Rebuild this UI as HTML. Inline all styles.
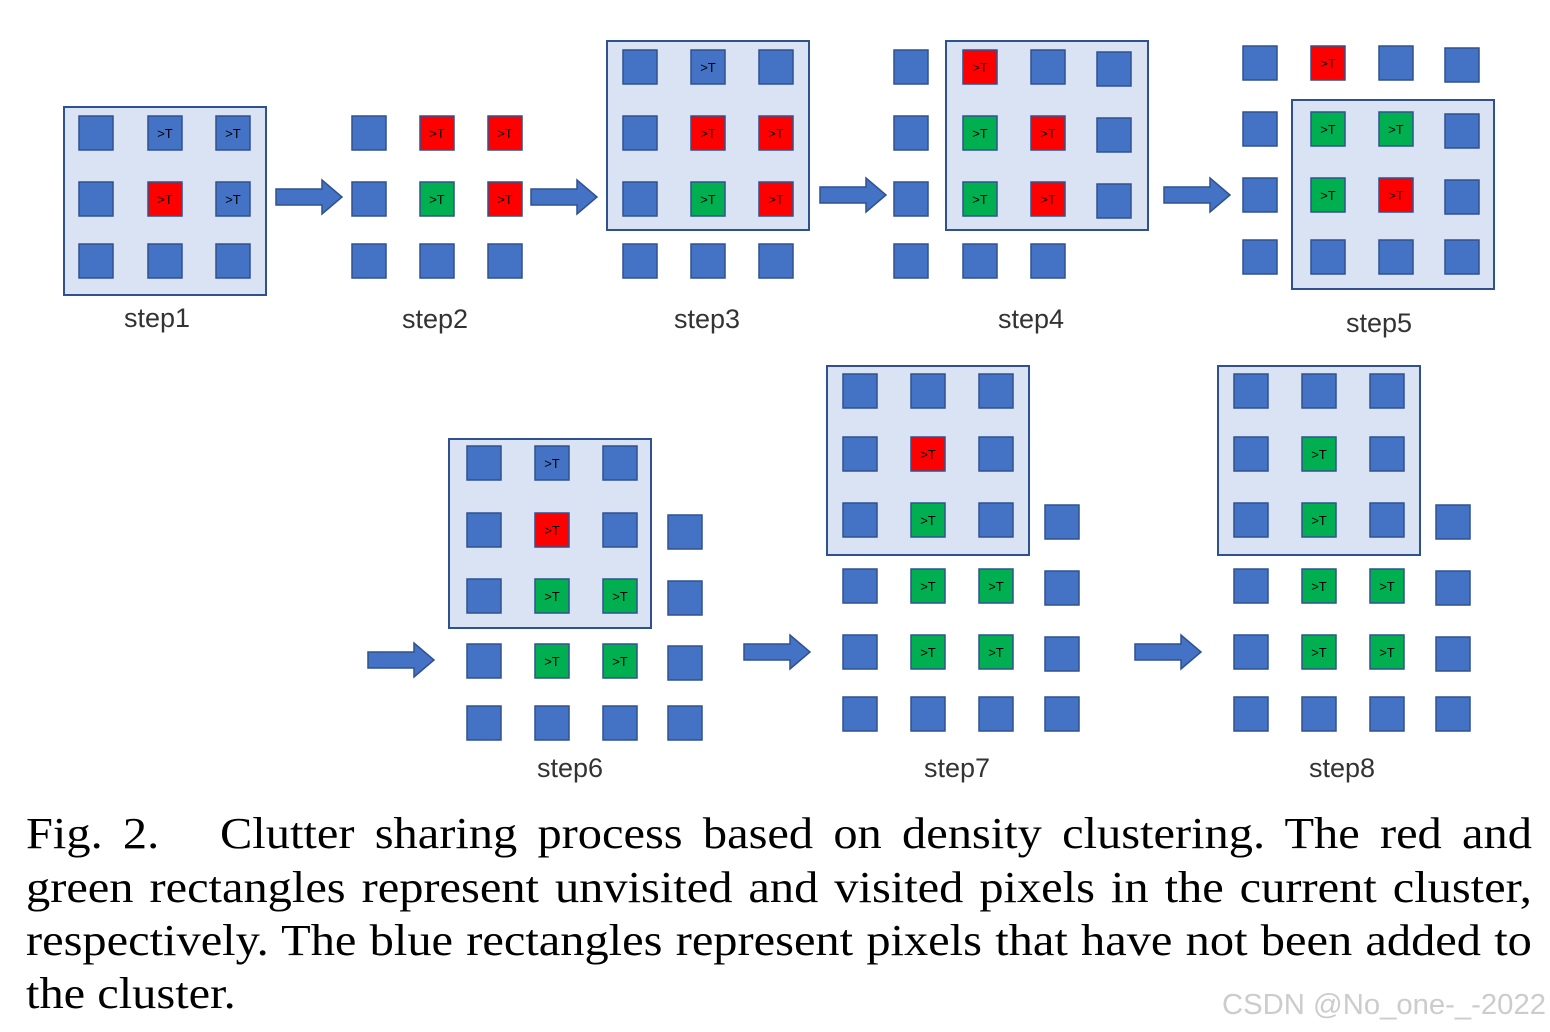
<!DOCTYPE html>
<html><head><meta charset="utf-8"><style>
body{margin:0;background:#fff;width:1550px;height:1032px;overflow:hidden;position:relative}
svg{display:block;position:absolute;left:0;top:0}
.l{font-family:"Liberation Sans","DejaVu Sans",sans-serif;font-size:27px;fill:#333;text-anchor:middle}
.t{font-family:"Liberation Sans",sans-serif;font-size:13px;fill:#000;text-anchor:middle}
.box{fill:#DAE3F3;stroke:#2F528F;stroke-width:2}
.cl{position:absolute;left:26px;width:1369px;font-family:"Liberation Serif",serif;font-size:44px;line-height:50px;color:#000;white-space:nowrap;text-align:justify;text-align-last:justify;transform:scaleX(1.1);transform-origin:0 0}
</style></head><body>
<svg width="1550" height="1032" viewBox="0 0 1550 1032">
<defs>
<rect id="b" width="34" height="34" fill="#4472C4" stroke="#2F528F" stroke-width="1.5"/>
<rect id="r" width="34" height="34" fill="#FF0000" stroke="#2F528F" stroke-width="1.5"/>
<rect id="g" width="34" height="34" fill="#00B050" stroke="#2F528F" stroke-width="1.5"/>
</defs>
<rect class="box" x="64" y="107" width="202" height="188"/>
<rect class="box" x="607" y="41" width="202" height="189"/>
<rect class="box" x="946" y="41" width="202" height="189"/>
<rect class="box" x="1292" y="100" width="202" height="189"/>
<rect class="box" x="449" y="439" width="202" height="189"/>
<rect class="box" x="827" y="366" width="202" height="189"/>
<rect class="box" x="1218" y="366" width="202" height="189"/>
<g fill="#4472C4" stroke="#2F528F" stroke-width="1.5">
<polygon points="276,189 322,189 322,180 342,197 322,214 322,205 276,205"/>
<polygon points="531,189 577,189 577,180 597,197 577,214 577,205 531,205"/>
<polygon points="820,187 866,187 866,178 886,195 866,212 866,203 820,203"/>
<polygon points="1164,187 1210,187 1210,178 1230,195 1210,212 1210,203 1164,203"/>
<polygon points="368,652 414,652 414,643 434,660 414,677 414,668 368,668"/>
<polygon points="744,644 790,644 790,635 810,652 790,669 790,660 744,660"/>
<polygon points="1135,644 1181,644 1181,635 1201,652 1181,669 1181,660 1135,660"/>
</g>
<use href="#b" x="79" y="116"/><use href="#b" x="148" y="116"/><use href="#b" x="216" y="116"/>
<use href="#b" x="79" y="182"/><use href="#r" x="148" y="182"/><use href="#b" x="216" y="182"/>
<use href="#b" x="79" y="244"/><use href="#b" x="148" y="244"/><use href="#b" x="216" y="244"/>
<text class="t" x="165" y="138">&gt;T</text><text class="t" x="233" y="138">&gt;T</text>
<text class="t" x="165" y="204">&gt;T</text><text class="t" x="233" y="204">&gt;T</text>
<use href="#b" x="352" y="116"/><use href="#r" x="420" y="116"/><use href="#r" x="488" y="116"/>
<use href="#b" x="352" y="182"/><use href="#g" x="420" y="182"/><use href="#r" x="488" y="182"/>
<use href="#b" x="352" y="244"/><use href="#b" x="420" y="244"/><use href="#b" x="488" y="244"/>
<text class="t" x="437" y="138">&gt;T</text><text class="t" x="505" y="138">&gt;T</text>
<text class="t" x="437" y="204">&gt;T</text><text class="t" x="505" y="204">&gt;T</text>
<use href="#b" x="623" y="50"/><use href="#b" x="691" y="50"/><use href="#b" x="759" y="50"/>
<use href="#b" x="623" y="116"/><use href="#r" x="691" y="116"/><use href="#r" x="759" y="116"/>
<use href="#b" x="623" y="182"/><use href="#g" x="691" y="182"/><use href="#r" x="759" y="182"/>
<use href="#b" x="623" y="244"/><use href="#b" x="691" y="244"/><use href="#b" x="759" y="244"/>
<text class="t" x="708" y="72">&gt;T</text>
<text class="t" x="708" y="138">&gt;T</text><text class="t" x="776" y="138">&gt;T</text>
<text class="t" x="708" y="204">&gt;T</text><text class="t" x="776" y="204">&gt;T</text>
<use href="#b" x="894" y="50"/><use href="#r" x="963" y="50"/><use href="#b" x="1031" y="50"/><use href="#b" x="1097" y="52"/>
<use href="#b" x="894" y="116"/><use href="#g" x="963" y="116"/><use href="#r" x="1031" y="116"/><use href="#b" x="1097" y="118"/>
<use href="#b" x="894" y="182"/><use href="#g" x="963" y="182"/><use href="#r" x="1031" y="182"/><use href="#b" x="1097" y="184"/>
<use href="#b" x="894" y="244"/><use href="#b" x="963" y="244"/><use href="#b" x="1031" y="244"/>
<text class="t" x="980" y="72">&gt;T</text>
<text class="t" x="980" y="138">&gt;T</text><text class="t" x="1048" y="138">&gt;T</text>
<text class="t" x="980" y="204">&gt;T</text><text class="t" x="1048" y="204">&gt;T</text>
<use href="#b" x="1243" y="46"/><use href="#r" x="1311" y="46"/><use href="#b" x="1379" y="46"/><use href="#b" x="1445" y="48"/>
<use href="#b" x="1243" y="112"/><use href="#g" x="1311" y="112"/><use href="#g" x="1379" y="112"/><use href="#b" x="1445" y="114"/>
<use href="#b" x="1243" y="178"/><use href="#g" x="1311" y="178"/><use href="#r" x="1379" y="178"/><use href="#b" x="1445" y="180"/>
<use href="#b" x="1243" y="240"/><use href="#b" x="1311" y="240"/><use href="#b" x="1379" y="240"/><use href="#b" x="1445" y="240"/>
<text class="t" x="1328" y="68">&gt;T</text>
<text class="t" x="1328" y="134">&gt;T</text><text class="t" x="1396" y="134">&gt;T</text>
<text class="t" x="1328" y="200">&gt;T</text><text class="t" x="1396" y="200">&gt;T</text>
<use href="#b" x="467" y="446"/><use href="#b" x="535" y="446"/><use href="#b" x="603" y="446"/>
<use href="#b" x="467" y="513"/><use href="#r" x="535" y="513"/><use href="#b" x="603" y="513"/><use href="#b" x="668" y="515"/>
<use href="#b" x="467" y="579"/><use href="#g" x="535" y="579"/><use href="#g" x="603" y="579"/><use href="#b" x="668" y="581"/>
<use href="#b" x="467" y="644"/><use href="#g" x="535" y="644"/><use href="#g" x="603" y="644"/><use href="#b" x="668" y="646"/>
<use href="#b" x="467" y="706"/><use href="#b" x="535" y="706"/><use href="#b" x="603" y="706"/><use href="#b" x="668" y="706"/>
<text class="t" x="552" y="468">&gt;T</text>
<text class="t" x="552" y="535">&gt;T</text>
<text class="t" x="552" y="601">&gt;T</text><text class="t" x="620" y="601">&gt;T</text>
<text class="t" x="552" y="666">&gt;T</text><text class="t" x="620" y="666">&gt;T</text>
<use href="#b" x="843" y="374"/><use href="#b" x="911" y="374"/><use href="#b" x="979" y="374"/>
<use href="#b" x="843" y="437"/><use href="#r" x="911" y="437"/><use href="#b" x="979" y="437"/>
<use href="#b" x="843" y="503"/><use href="#g" x="911" y="503"/><use href="#b" x="979" y="503"/><use href="#b" x="1045" y="505"/>
<use href="#b" x="843" y="569"/><use href="#g" x="911" y="569"/><use href="#g" x="979" y="569"/><use href="#b" x="1045" y="571"/>
<use href="#b" x="843" y="635"/><use href="#g" x="911" y="635"/><use href="#g" x="979" y="635"/><use href="#b" x="1045" y="637"/>
<use href="#b" x="843" y="697"/><use href="#b" x="911" y="697"/><use href="#b" x="979" y="697"/><use href="#b" x="1045" y="697"/>
<text class="t" x="928" y="459">&gt;T</text>
<text class="t" x="928" y="525">&gt;T</text>
<text class="t" x="928" y="591">&gt;T</text><text class="t" x="996" y="591">&gt;T</text>
<text class="t" x="928" y="657">&gt;T</text><text class="t" x="996" y="657">&gt;T</text>
<use href="#b" x="1234" y="374"/><use href="#b" x="1302" y="374"/><use href="#b" x="1370" y="374"/>
<use href="#b" x="1234" y="437"/><use href="#g" x="1302" y="437"/><use href="#b" x="1370" y="437"/>
<use href="#b" x="1234" y="503"/><use href="#g" x="1302" y="503"/><use href="#b" x="1370" y="503"/><use href="#b" x="1436" y="505"/>
<use href="#b" x="1234" y="569"/><use href="#g" x="1302" y="569"/><use href="#g" x="1370" y="569"/><use href="#b" x="1436" y="571"/>
<use href="#b" x="1234" y="635"/><use href="#g" x="1302" y="635"/><use href="#g" x="1370" y="635"/><use href="#b" x="1436" y="637"/>
<use href="#b" x="1234" y="697"/><use href="#b" x="1302" y="697"/><use href="#b" x="1370" y="697"/><use href="#b" x="1436" y="697"/>
<text class="t" x="1319" y="459">&gt;T</text>
<text class="t" x="1319" y="525">&gt;T</text>
<text class="t" x="1319" y="591">&gt;T</text><text class="t" x="1387" y="591">&gt;T</text>
<text class="t" x="1319" y="657">&gt;T</text><text class="t" x="1387" y="657">&gt;T</text>
<text class="l" x="157" y="327">step1</text>
<text class="l" x="435" y="328">step2</text>
<text class="l" x="707" y="328">step3</text>
<text class="l" x="1031" y="328">step4</text>
<text class="l" x="1379" y="332">step5</text>
<text class="l" x="570" y="777">step6</text>
<text class="l" x="957" y="777">step7</text>
<text class="l" x="1342" y="777">step8</text>
<text x="1222" y="1014" font-family="Liberation Sans,sans-serif" font-size="29" fill="#ccc" textLength="324" lengthAdjust="spacingAndGlyphs">CSDN @No_one-_-2022</text>
</svg>
<div class="cl" style="top:809px">Fig. 2.&nbsp;&nbsp;&nbsp;Clutter sharing process based on density clustering. The red and</div>
<div class="cl" style="top:863px">green rectangles represent unvisited and visited pixels in the current cluster,</div>
<div class="cl" style="top:916px">respectively. The blue rectangles represent pixels that have not been added to</div>
<div class="cl" style="top:969px;text-align:left;text-align-last:left">the cluster.</div>
</body></html>
